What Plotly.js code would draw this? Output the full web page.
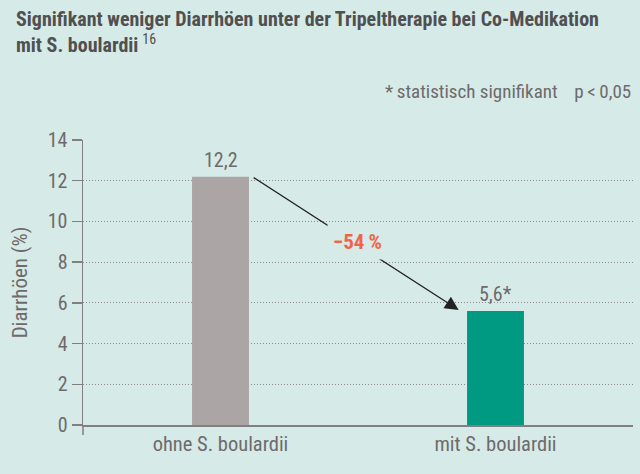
<!DOCTYPE html>
<html><head><meta charset="utf-8">
<script src="https://cdn.plot.ly/plotly-3.0.1.min.js"></script>
<style>html,body{margin:0;padding:0;background:#d6eae7;}#chart{width:640px;height:474px;}</style>
</head><body><div id="chart"></div>
<script>
const categories = ["ohne S. boulardii", "mit S. boulardii"];
const values = [12.2, 5.6];
const valueLabels = ["12,2", "5,6*"];
const barColors = ["#aba5a6", "#009a82"];
const yTicks = [0, 2, 4, 6, 8, 10, 12, 14];
const reduction = "\u221254\u2009%";

const FONT = "'Liberation Sans Narrow', 'Roboto Condensed', 'Arial Narrow', 'Liberation Sans', sans-serif";
const GREY = "#6e6a6b";
const BG = "#d6eae7";

const trace = {
  type: "bar",
  x: [0, 1],
  y: values,
  width: 0.207,
  marker: {color: barColors},
  hoverinfo: "none"
};

// pixel -> paper helper (plot area: top 140, bottom 425)
const py = (Y) => (425 - Y) / 285;

const annotations = [
  {x: 0, y: 1.475, xref: "paper", yref: "paper", xanchor: "left", yanchor: "top", align: "left", showarrow: false,
   xshift: -69,
   text: "<b>Signifikant weniger Diarrhöen unter der Tripeltherapie bei Co-Medikation<br>mit S. boulardii</b>\u2009<sup>16</sup>",
   font: {family: FONT, size: 20, color: "#505050"}},
  {x: 0, y: values[0], xref: "x", yref: "y", text: valueLabels[0], showarrow: false, yanchor: "bottom", yshift: 3,
   font: {family: FONT, size: 20, color: GREY}},
  {x: 1, y: values[1], xref: "x", yref: "y", text: valueLabels[1], showarrow: false, yanchor: "bottom", yshift: 3,
   font: {family: FONT, size: 20, color: GREY}},
  {x: 0.866, y: 5.65, xref: "x", yref: "y", axref: "x", ayref: "y", ax: 0.115, ay: values[0],
   showarrow: true, arrowhead: 2, arrowsize: 2.1, arrowwidth: 1.3, arrowcolor: "#222", text: ""},
  {x: 0.498, y: 9.0, xref: "x", yref: "y", text: "<b>" + reduction + "</b>", showarrow: false,
   bgcolor: BG, borderpad: 5, font: {family: FONT, size: 21, color: "#f0644a"}},
  {x: 1, y: py(92), xref: "paper", yref: "paper", xanchor: "right", yanchor: "middle", showarrow: false,
   text: "*\u2009statistisch signifikant\u2003p\u2009<\u20090,05", font: {family: FONT, size: 19, color: GREY}}
];

const layout = {
  width: 640, height: 474,
  paper_bgcolor: BG, plot_bgcolor: BG,
  margin: {l: 83, r: 7, t: 140, b: 49},
  showlegend: false,
  xaxis: {
    range: [-0.5, 1.5],
    tickvals: [0, 1], ticktext: categories,
    showgrid: false, zeroline: false,
    showline: true, linecolor: "#808080", linewidth: 1.5,
    ticks: "", tickfont: {family: FONT, size: 20.5, color: GREY}
  },
  yaxis: {
    range: [0, 14], tickvals: yTicks, ticktext: yTicks.map(String),
    showgrid: true, gridcolor: "#8c8c8c", griddash: "1px,2px", gridwidth: 1,
    zeroline: false, showline: true, linecolor: "#808080", linewidth: 1.5,
    ticks: "outside", ticklen: 10, tickcolor: "#808080", tickwidth: 1.5,
    tickfont: {family: FONT, size: 20, color: GREY},
    title: {text: "Diarrhöen (%)", standoff: 14, font: {family: FONT, size: 21, color: GREY}}
  },
  annotations: annotations,
  shapes: [
    {type: "line", xref: "paper", yref: "paper", x0: 0, x1: 0, y0: 0, y1: -0.035,
     line: {color: "#808080", width: 1.5}}
  ]
};

Plotly.newPlot("chart", [trace], layout, {displayModeBar: false, staticPlot: true});
</script></body></html>
